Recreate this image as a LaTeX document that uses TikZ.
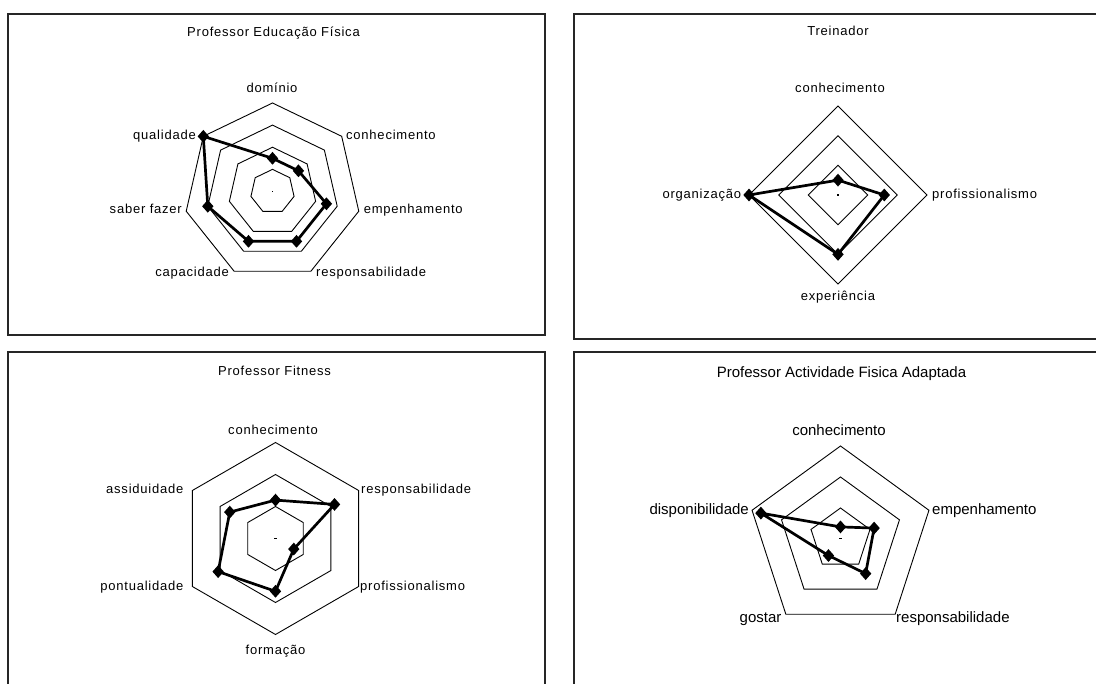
\documentclass[tikz,border=0pt]{standalone}
\usepackage{fontspec}
\setmainfont{Liberation Sans}
\newfontfamily\chartfont[LetterSpace=6]{Liberation Sans}
\usetikzlibrary{shapes.geometric}

\tikzset{
  panel/.style={draw=black!85, line width=1.2pt},
  ring/.style={draw=black, line width=0.9pt},
  series/.style={draw=black, line width=2.7pt, line join=round},
  mk/.style={diamond, fill=black, inner sep=0pt, minimum width=11.5pt, minimum height=13pt},
  lbl/.style={inner sep=0pt, font=\chartfont\fontsize{13}{15}\selectfont, text height=9.5pt, text depth=2pt},
  lblbig/.style={inner sep=0pt, font=\fontsize{15}{17}\selectfont, text height=11pt, text depth=2.5pt},
  hub/.style={rectangle, fill=black, inner sep=0pt, minimum width=1.6pt, minimum height=1.6pt},
  hubdash/.style={rectangle, fill=black, inner sep=0pt, minimum width=3pt, minimum height=1pt},
}

\begin{document}
\begin{tikzpicture}[x=1pt, y=-1pt]
\useasboundingbox (0,0) rectangle (1096,684);

% ---------- panel frames ----------
\draw[panel] (8,14) rectangle (545,335);
\draw[panel] (1097,14) -- (574,14) -- (574,339) -- (1097,339);
\draw[panel] (545,685) -- (545,352) -- (8,352) -- (8,685);
\draw[panel] (1097,352) -- (574,352) -- (574,685);

% ---------- Professor Educacao Fisica (7 axes) ----------
\begin{scope}[shift={(272.5,191.5)}, yscale=-1]
  \foreach \f in {0.25,0.5,0.75,1} {
    \draw[ring] (90:{\f*88.5}) \foreach \k in {1,...,6} { -- ({90-\k*360/7}:{\f*88.5}) } -- cycle;
  }
  \node[hub] (h1) at (0,0) {};
  \coordinate (a1) at ({90}:{0.375*88.5});
  \coordinate (a2) at ({90-1*360/7}:{0.375*88.5});
  \coordinate (a3) at ({90-2*360/7}:{0.625*88.5});
  \coordinate (a4) at ({90-3*360/7}:{0.625*88.5});
  \coordinate (a5) at ({90-4*360/7}:{0.625*88.5});
  \coordinate (a6) at ({90-5*360/7}:{0.75*88.5});
  \coordinate (a7) at ({90-6*360/7}:{1.0*88.5});
  \draw[series] (a1) -- (a2) -- (a3) -- (a4) -- (a5) -- (a6) -- (a7) -- cycle;
  \foreach \i in {1,...,7} { \node[mk] (ma\i) at (a\i) {}; }
\end{scope}
\node[lbl] (t1) at (273.5,33) {Professor Educação Física};
\node[lbl] (la1) at (272,89) {domínio};
\node[lbl, anchor=west] (la2) at (346,136) {conhecimento};
\node[lbl, anchor=west] (la3) at (363.6,210) {empenhamento};
\node[lbl, anchor=west] (la4) at (316,273) {responsabilidade};
\node[lbl, anchor=east] (la5) at (229,273) {capacidade};
\node[lbl, anchor=east] (la6) at (182,210) {saber fazer};
\node[lbl, anchor=east] (la7) at (196,136) {qualidade};

% ---------- Treinador (4 axes) ----------
\begin{scope}[shift={(838,195)}, yscale=-1]
  \foreach \f in {0.3333,0.6667,1} {
    \draw[ring] (90:{\f*89}) -- (0:{\f*89}) -- (-90:{\f*89}) -- (180:{\f*89}) -- cycle;
  }
  \node[hub] (h2) at (0,0) {};
  \coordinate (b1) at (90:{0.167*89});
  \coordinate (b2) at (0:{0.52*89});
  \coordinate (b3) at (-90:{0.667*89});
  \coordinate (b4) at (180:{1.0*89});
  \draw[series] (b1) -- (b2) -- (b3) -- (b4) -- cycle;
  \foreach \i in {1,...,4} { \node[mk] (mb\i) at (b\i) {}; }
\end{scope}
\node[lbl] (t2) at (838,31.7) {Treinador};
\node[lbl] (lb1) at (840,88.3) {conhecimento};
\node[lbl, anchor=west] (lb2) at (932,194.3) {profissionalismo};
\node[lbl] (lb3) at (838,296.7) {experiência};
\node[lbl, anchor=east] (lb4) at (741.4,194.3) {organização};

% ---------- Professor Fitness (6 axes) ----------
\begin{scope}[shift={(275.5,538.5)}, yscale=-1]
  \foreach \f in {0.3333,0.6667,1} {
    \draw[ring] (90:{\f*96}) \foreach \k in {1,...,5} { -- ({90-\k*60}:{\f*96}) } -- cycle;
  }
  \node[hubdash] (h3) at (0,0) {};
  \coordinate (c1) at (90:{0.40*96});
  \coordinate (c2) at (30:{0.71*96});
  \coordinate (c3) at (-30:{0.22*96});
  \coordinate (c4) at (-90:{0.55*96});
  \coordinate (c5) at (-150:{0.69*96});
  \coordinate (c6) at (150:{0.55*96});
  \draw[series] (c1) -- (c2) -- (c3) -- (c4) -- (c5) -- (c6) -- cycle;
  \foreach \i in {1,...,6} { \node[mk] (mc\i) at (c\i) {}; }
\end{scope}
\node[lbl] (t3) at (274.5,371.3) {Professor Fitness};
\node[lbl] (lc1) at (273,430.3) {conhecimento};
\node[lbl, anchor=west] (lc2) at (361,489.3) {responsabilidade};
\node[lbl, anchor=west] (lc3) at (360,587) {profissionalismo};
\node[lbl] (lc4) at (275.5,650.3) {formação};
\node[lbl, anchor=east] (lc5) at (183.6,587) {pontualidade};
\node[lbl, anchor=east] (lc6) at (183.6,489.3) {assiduidade};

% ---------- Professor Actividade Fisica Adaptada (5 axes) ----------
\begin{scope}[shift={(840.5,539)}, yscale=-1]
  \foreach \f in {0.3333,0.6667,1} {
    \draw[ring] (90:{\f*93}) \foreach \k in {1,...,4} { -- ({90-\k*72}:{\f*93}) } -- cycle;
  }
  \node[hubdash] (h4) at (0,0) {};
  \coordinate (d1) at (90:{0.13*93});
  \coordinate (d2) at (18:{0.38*93});
  \coordinate (d3) at (-54:{0.46*93});
  \coordinate (d4) at (-126:{0.22*93});
  \coordinate (d5) at (162:{0.9*93});
  \draw[series] (d1) -- (d2) -- (d3) -- (d4) -- (d5) -- cycle;
  \foreach \i in {1,...,5} { \node[mk] (md\i) at (d\i) {}; }
\end{scope}
\node[lblbig] (t4) at (841.5,373.7) {Professor Actividade Fisica Adaptada};
\node[lblbig] (ld1) at (839,431.3) {conhecimento};
\node[lblbig, anchor=west] (ld2) at (932,510.3) {empenhamento};
\node[lblbig, anchor=west] (ld3) at (896,618.7) {responsabilidade};
\node[lblbig, anchor=east] (ld4) at (781.6,618.7) {gostar};
\node[lblbig, anchor=east] (ld5) at (749,510.3) {disponibilidade};
\end{tikzpicture}
\end{document}
